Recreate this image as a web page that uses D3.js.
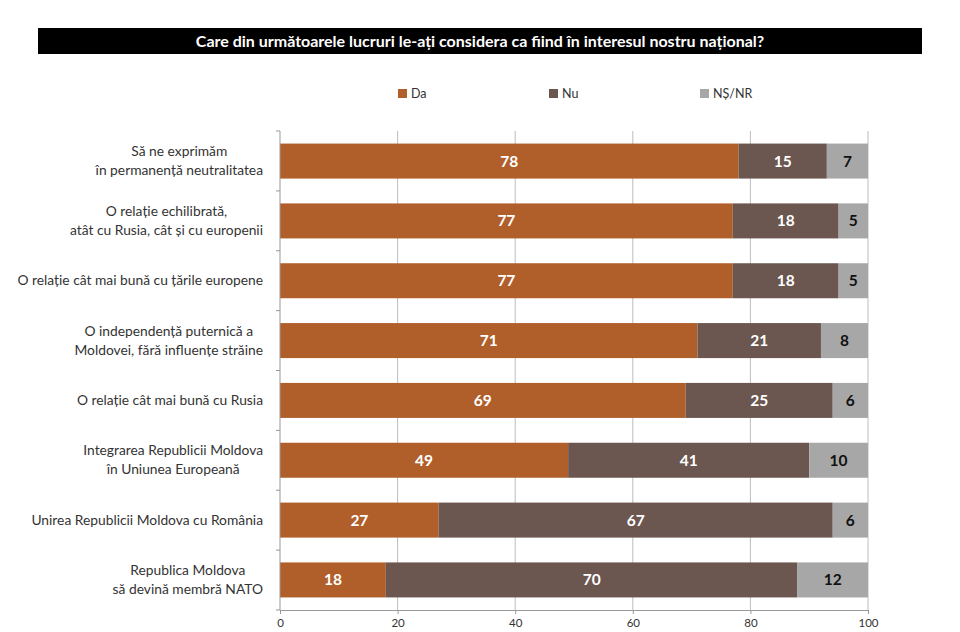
<!DOCTYPE html>
<html>
<head>
<meta charset="utf-8">
<script src="https://d3js.org/d3.v7.min.js"></script>
<style>
  body { margin: 0; background: #fff; }
  svg { display: block; font-family: Lato, "Open Sans", sans-serif; }
</style>
</head>
<body>
<svg id="chart" width="960" height="632"></svg>
<script>
var categories = [
  ['Să ne exprimăm', 'în permanență neutralitatea'],
  ['O relație echilibrată,', 'atât cu Rusia, cât și cu europenii'],
  ['O relație cât mai bună cu țările europene'],
  ['O independență puternică a', 'Moldovei, fără influențe străine'],
  ['O relație cât mai bună cu Rusia'],
  ['Integrarea Republicii Moldova', 'în Uniunea Europeană'],
  ['Unirea Republicii Moldova cu România'],
  ['Republica Moldova', 'să devină membră NATO']
];
var da = [78, 77, 77, 71, 69, 49, 27, 18];
var nu = [15, 18, 18, 21, 25, 41, 67, 70];
var nsnr = [7, 5, 5, 8, 6, 10, 6, 12];
var seriesNames = ['Da', 'Nu', 'NȘ/NR'];
var xTicks = [0, 20, 40, 60, 80, 100];

var colors = ['#b05f2b', '#6b5750', '#a7a7a7'];
var labelColors = ['#fff', '#fff', '#111'];

var svg = d3.select('#chart');
var plotLeft = 280, plotRight = 868, plotTop = 131, plotBottom = 610;

// title bar
svg.append('rect')
  .attr('x', 38).attr('y', 28).attr('width', 884).attr('height', 26)
  .attr('fill', '#000');
svg.append('text')
  .attr('x', 480).attr('y', 47)
  .attr('text-anchor', 'middle')
  .attr('fill', '#fff')
  .attr('font-size', 16)
  .attr('font-weight', 'bold')
  .text('Care din următoarele lucruri le-ați considera ca fiind în interesul nostru național?');

// legend
var legendX = [398, 549, 700];
var legend = svg.append('g').selectAll('g')
  .data(seriesNames)
  .enter().append('g')
  .attr('transform', function (d, i) { return 'translate(' + legendX[i] + ',89)'; });
legend.append('rect')
  .attr('width', 9).attr('height', 9)
  .attr('fill', function (d, i) { return colors[i]; });
legend.append('text')
  .attr('x', 13).attr('y', 9)
  .attr('font-size', 12.5)
  .attr('fill', '#333')
  .text(function (d) { return d; });

var x = d3.scaleLinear().domain([0, 100]).range([plotLeft, plotRight]);
var y = d3.scaleBand().domain(d3.range(categories.length))
  .range([plotTop, plotBottom]).paddingInner(0.415).paddingOuter(0.21);

// gridlines
svg.append('g').selectAll('line')
  .data(xTicks.slice(1))
  .enter().append('line')
  .attr('x1', function (d) { return x(d); })
  .attr('x2', function (d) { return x(d); })
  .attr('y1', plotTop).attr('y2', plotBottom)
  .attr('stroke', '#bdbdbd');

// stacked bars
var rows = categories.map(function (c, i) { return { i: i, Da: da[i], Nu: nu[i], 'NȘ/NR': nsnr[i] }; });
var stacked = d3.stack().keys(seriesNames)(rows);

var layer = svg.append('g').selectAll('g')
  .data(stacked)
  .enter().append('g')
  .attr('fill', function (d) { return colors[d.index]; });

layer.selectAll('rect')
  .data(function (d) { return d; })
  .enter().append('rect')
  .attr('x', function (d) { return x(d[0]); })
  .attr('width', function (d) { return x(d[1]) - x(d[0]); })
  .attr('y', function (d) { return y(d.data.i); })
  .attr('height', y.bandwidth());

layer.selectAll('text')
  .data(function (d) { return d.map(function (p) { return { p: p, k: d.index }; }); })
  .enter().append('text')
  .attr('x', function (d) { return (x(d.p[0]) + x(d.p[1])) / 2; })
  .attr('y', function (d) { return y(d.p.data.i) + y.bandwidth() / 2 + 5.5; })
  .attr('text-anchor', 'middle')
  .attr('font-size', 15.5)
  .attr('font-weight', 'bold')
  .attr('fill', function (d) { return labelColors[d.k]; })
  .text(function (d) { return d.p[1] - d.p[0]; });

// x axis
var xAxis = svg.append('g')
  .attr('transform', 'translate(0,' + plotBottom + ')')
  .call(d3.axisBottom(x).tickValues(xTicks).tickSize(4).tickPadding(5));
xAxis.select('.domain').attr('stroke', '#999');
xAxis.selectAll('.tick line').attr('stroke', '#999');
xAxis.selectAll('.tick text')
  .attr('font-size', 11.5)
  .attr('fill', '#333')
  .attr('font-family', 'Lato, "Open Sans", sans-serif');

// y axis line with ticks between categories
svg.append('line')
  .attr('x1', plotLeft).attr('x2', plotLeft).attr('y1', plotTop).attr('y2', plotBottom)
  .attr('stroke', '#999');
var step = (plotBottom - plotTop) / categories.length;
svg.append('g').selectAll('line')
  .data(d3.range(categories.length + 1))
  .enter().append('line')
  .attr('x1', plotLeft - 4).attr('x2', plotLeft)
  .attr('y1', function (d) { return plotTop + d * step; })
  .attr('y2', function (d) { return plotTop + d * step; })
  .attr('stroke', '#999');

// category labels: lines centred on each other, block right-aligned
var catG = svg.append('g');
categories.forEach(function (lines, i) {
  var g = catG.append('g');
  var cy = y(i) + y.bandwidth() / 2;
  var lh = 19;
  var t = g.selectAll('text')
    .data(lines)
    .enter().append('text')
    .attr('y', function (d, j) { return cy + 4.5 + (j - (lines.length - 1) / 2) * lh; })
    .attr('text-anchor', 'middle')
    .attr('font-size', 13.8)
    .attr('fill', '#333')
    .text(function (d) { return d; });
  var w = d3.max(t.nodes(), function (n) { return n.getComputedTextLength(); });
  t.attr('x', 263 - w / 2);
});
</script>
</body>
</html>
